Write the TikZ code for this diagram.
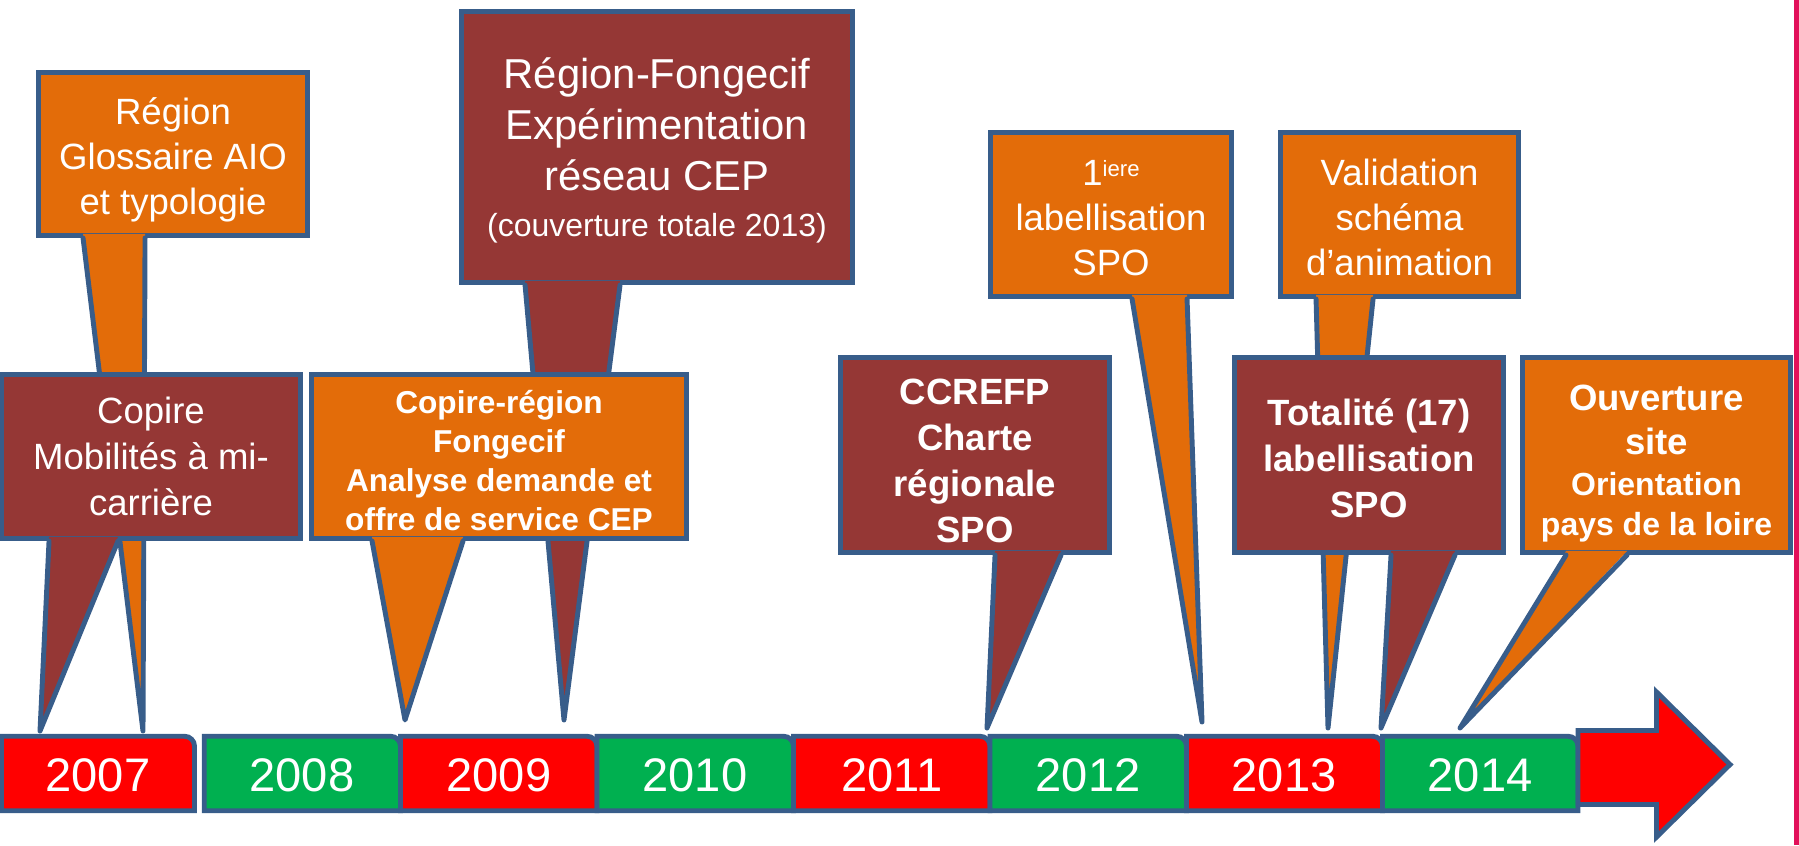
\documentclass[tikz,border=0pt]{standalone}
\usepackage{fontspec}
\setmainfont{Liberation Sans}
\definecolor{tlorange}{RGB}{227,108,9}
\definecolor{tlmaroon}{RGB}{149,55,53}
\definecolor{tlborder}{RGB}{56,93,138}
\definecolor{tlred}{RGB}{255,0,0}
\definecolor{tlgreen}{RGB}{0,176,80}
\definecolor{tlpink}{RGB}{226,16,90}
\begin{document}
\begin{tikzpicture}
        \tikzstyle{tl_org}  = [shape = rectangle, draw = tlborder, fill = tlorange, line width = 1.4pt, text = white, align = center, inner sep = 0pt]
        \tikzstyle{tl_mar}  = [shape = rectangle, draw = tlborder, fill = tlmaroon, line width = 1.4pt, text = white, align = center, inner sep = 0pt]
        \tikzstyle{tl_edge} = [draw = tlborder, line width = 1.4pt, line cap = round, line join = round]
        \tikzstyle{tl_year} = [draw = tlborder, line width = 1.4pt]
        \tikzstyle{tl_ytxt} = [text = white, font = \fontsize{13.4}{16}\selectfont]

        \useasboundingbox (0, 0) rectangle (17.99, 8.45);

        \node[tl_org, minimum width = 2.69cm, minimum height = 1.63cm, text depth = 0pt, font = \fontsize{10.4}{12.8}\selectfont] at (1.73, 6.91) (c1) {\rule{0pt}{8.8pt}Région\\Glossaire AIO\\et typologie};
        \coordinate (c1_tip) at (1.43, 1.14);
        \fill[tlorange] ([xshift = 0.47cm, yshift = 0.04cm]c1.south west) -- (c1_tip) -- ([xshift = 1.09cm, yshift = 0.04cm]c1.south west) -- cycle;
        \draw[tl_edge] ([xshift = 0.47cm]c1.south west) -- (c1_tip) -- ([xshift = 1.09cm]c1.south west);

        \node[tl_mar, minimum width = 3.91cm, minimum height = 2.71cm, text depth = 0pt, font = \fontsize{11.9}{14.5}\selectfont] at (6.57, 6.98) (c2) {Région-Fongecif\\Expérimentation\\réseau CEP\\[-1.6pt]{\fontsize{9.1}{11}\selectfont (couverture totale 2013)}};
        \coordinate (c2_tip) at (5.64, 1.25);
        \fill[tlmaroon] ([xshift = 0.66cm, yshift = 0.04cm]c2.south west) -- (c2_tip) -- ([xshift = 1.61cm, yshift = 0.04cm]c2.south west) -- cycle;
        \draw[tl_edge] ([xshift = 0.66cm]c2.south west) -- (c2_tip) -- ([xshift = 1.61cm]c2.south west);

        \node[tl_org, minimum width = 2.41cm, minimum height = 1.64cm, font = \fontsize{10.4}{12.8}\selectfont] at (11.11, 6.305) (c3) {\rule{0pt}{9.4pt}1{\fontsize{6.3}{7}\selectfont\raisebox{2.8pt}{iere}}\\labellisation\\SPO};
        \coordinate (c3_tip) at (12.02, 1.23);
        \fill[tlorange] ([xshift = 1.44cm, yshift = 0.04cm]c3.south west) -- (c3_tip) -- ([xshift = 1.99cm, yshift = 0.04cm]c3.south west) -- cycle;
        \draw[tl_edge] ([xshift = 1.44cm]c3.south west) -- (c3_tip) -- ([xshift = 1.99cm]c3.south west);

        \node[tl_org, minimum width = 2.38cm, minimum height = 1.64cm, font = \fontsize{10.4}{12.8}\selectfont] at (13.995, 6.305) (c4) {\rule{0pt}{9.2pt}Validation\\schéma\\d’animation};
        \coordinate (c4_tip) at (13.28, 1.17);
        \fill[tlorange] ([xshift = 0.38cm, yshift = 0.04cm]c4.south west) -- (c4_tip) -- ([xshift = 0.95cm, yshift = 0.04cm]c4.south west) -- cycle;
        \draw[tl_edge] ([xshift = 0.38cm]c4.south west) -- (c4_tip) -- ([xshift = 0.95cm]c4.south west);

        \node[tl_mar, minimum width = 2.99cm, minimum height = 1.64cm, font = \fontsize{10.4}{13}\selectfont] at (1.51, 3.885) (c5) {Copire\\Mobilités à mi-\\carrière};
        \coordinate (c5_tip) at (0.40, 1.14);
        \fill[tlmaroon] ([xshift = 0.50cm, yshift = 0.04cm]c5.south west) -- (c5_tip) -- ([xshift = 1.19cm, yshift = 0.04cm]c5.south west) -- cycle;
        \draw[tl_edge] ([xshift = 0.50cm]c5.south west) -- (c5_tip) -- ([xshift = 1.19cm]c5.south west);

        \node[tl_org, minimum width = 3.75cm, minimum height = 1.64cm, font = \bfseries\fontsize{9}{11.1}\selectfont] at (4.99, 3.885) (c6) {\rule{0pt}{8.8pt}Copire-région\\Fongecif\\Analyse demande et\\offre de service CEP};
        \coordinate (c6_tip) at (4.05, 1.25);
        \fill[tlorange] ([xshift = 0.63cm, yshift = 0.04cm]c6.south west) -- (c6_tip) -- ([xshift = 1.54cm, yshift = 0.04cm]c6.south west) -- cycle;
        \draw[tl_edge] ([xshift = 0.63cm]c6.south west) -- (c6_tip) -- ([xshift = 1.54cm]c6.south west);

        \node[tl_mar, minimum width = 2.69cm, minimum height = 1.95cm, font = \bfseries\fontsize{10.4}{13.1}\selectfont] at (9.75, 3.90) (c7) {\rule{0pt}{10.6pt}CCREFP\\Charte\\régionale\\SPO};
        \coordinate (c7_tip) at (9.87, 1.17);
        \fill[tlmaroon] ([xshift = 1.57cm, yshift = 0.04cm]c7.south west) -- (c7_tip) -- ([xshift = 2.23cm, yshift = 0.04cm]c7.south west) -- cycle;
        \draw[tl_edge] ([xshift = 1.57cm]c7.south west) -- (c7_tip) -- ([xshift = 2.23cm]c7.south west);

        \node[tl_mar, minimum width = 2.69cm, minimum height = 1.95cm, font = \bfseries\fontsize{10.4}{13.1}\selectfont] at (13.69, 3.90) (c8) {\rule{0pt}{9.3pt}Totalité (17)\\labellisation\\SPO};
        \coordinate (c8_tip) at (13.81, 1.17);
        \fill[tlmaroon] ([xshift = 1.59cm, yshift = 0.04cm]c8.south west) -- (c8_tip) -- ([xshift = 2.23cm, yshift = 0.04cm]c8.south west) -- cycle;
        \draw[tl_edge] ([xshift = 1.59cm]c8.south west) -- (c8_tip) -- ([xshift = 2.23cm]c8.south west);

        \node[tl_org, minimum width = 2.68cm, minimum height = 1.95cm, text depth = 0pt, font = \bfseries\fontsize{10.4}{12.5}\selectfont] at (16.565, 3.90) (c9) {\rule{0pt}{10.4pt}Ouverture\\site\\[-0.8pt]{\fontsize{9.1}{11}\selectfont Orientation}\\[-1.1pt]{\fontsize{9.1}{11}\selectfont pays de la loire}};
        \coordinate (c9_tip) at (14.60, 1.17);
        \fill[tlorange] ([xshift = 0.46cm, yshift = 0.04cm]c9.south west) -- (c9_tip) -- ([xshift = 1.07cm, yshift = 0.04cm]c9.south west) -- cycle;
        \draw[tl_edge] ([xshift = 0.46cm]c9.south west) -- (c9_tip) -- ([xshift = 1.07cm]c9.south west);

        \draw[tl_year, fill = tlred]   (0.015, 0.3425) -- (0.015, 1.0875) -- (1.845, 1.0875) arc[start angle = 90, end angle = 0, radius = 0.1] -- (1.945, 0.3425) -- cycle;
        \node[tl_ytxt] at (0.98, 0.70) (y2007) {2007};
        \draw[tl_year, fill = tlgreen] (2.0425, 0.3425) -- (2.0425, 1.0875) -- (3.905, 1.0875) arc[start angle = 90, end angle = 0, radius = 0.1] -- (4.005, 0.3425) -- cycle;
        \node[tl_ytxt] at (3.02, 0.70) (y2008) {2008};
        \draw[tl_year, fill = tlred]   (4.005, 0.3425) -- (4.005, 1.0875) -- (5.87, 1.0875) arc[start angle = 90, end angle = 0, radius = 0.1] -- (5.97, 0.3425) -- cycle;
        \node[tl_ytxt] at (4.99, 0.70) (y2009) {2009};
        \draw[tl_year, fill = tlgreen] (5.97, 0.3425) -- (5.97, 1.0875) -- (7.835, 1.0875) arc[start angle = 90, end angle = 0, radius = 0.1] -- (7.935, 0.3425) -- cycle;
        \node[tl_ytxt] at (6.95, 0.70) (y2010) {2010};
        \draw[tl_year, fill = tlred]   (7.935, 0.3425) -- (7.935, 1.0875) -- (9.80, 1.0875) arc[start angle = 90, end angle = 0, radius = 0.1] -- (9.90, 0.3425) -- cycle;
        \node[tl_ytxt] at (8.92, 0.70) (y2011) {2011};
        \draw[tl_year, fill = tlgreen] (9.90, 0.3425) -- (9.90, 1.0875) -- (11.765, 1.0875) arc[start angle = 90, end angle = 0, radius = 0.1] -- (11.865, 0.3425) -- cycle;
        \node[tl_ytxt] at (10.88, 0.70) (y2012) {2012};
        \draw[tl_year, fill = tlred]   (11.865, 0.3425) -- (11.865, 1.0875) -- (13.725, 1.0875) arc[start angle = 90, end angle = 0, radius = 0.1] -- (13.825, 0.3425) -- cycle;
        \node[tl_ytxt] at (12.84, 0.70) (y2013) {2013};
        \draw[tl_year, fill = tlgreen] (13.825, 0.3425) -- (13.825, 1.0875) -- (15.68, 1.0875) arc[start angle = 90, end angle = 0, radius = 0.1] -- (15.78, 0.3425) -- cycle;
        \node[tl_ytxt] at (14.80, 0.70) (y2014) {2014};

        \draw[tl_year, fill = tlred] (15.78, 1.145) -- (16.565, 1.145) -- (16.565, 1.53) -- (17.30, 0.805) -- (16.565, 0.08) -- (16.565, 0.405) -- (15.78, 0.405) -- cycle;

        \fill[tlpink] (17.94, 0) rectangle (17.99, 8.45);
      \end{tikzpicture}
\end{document}
